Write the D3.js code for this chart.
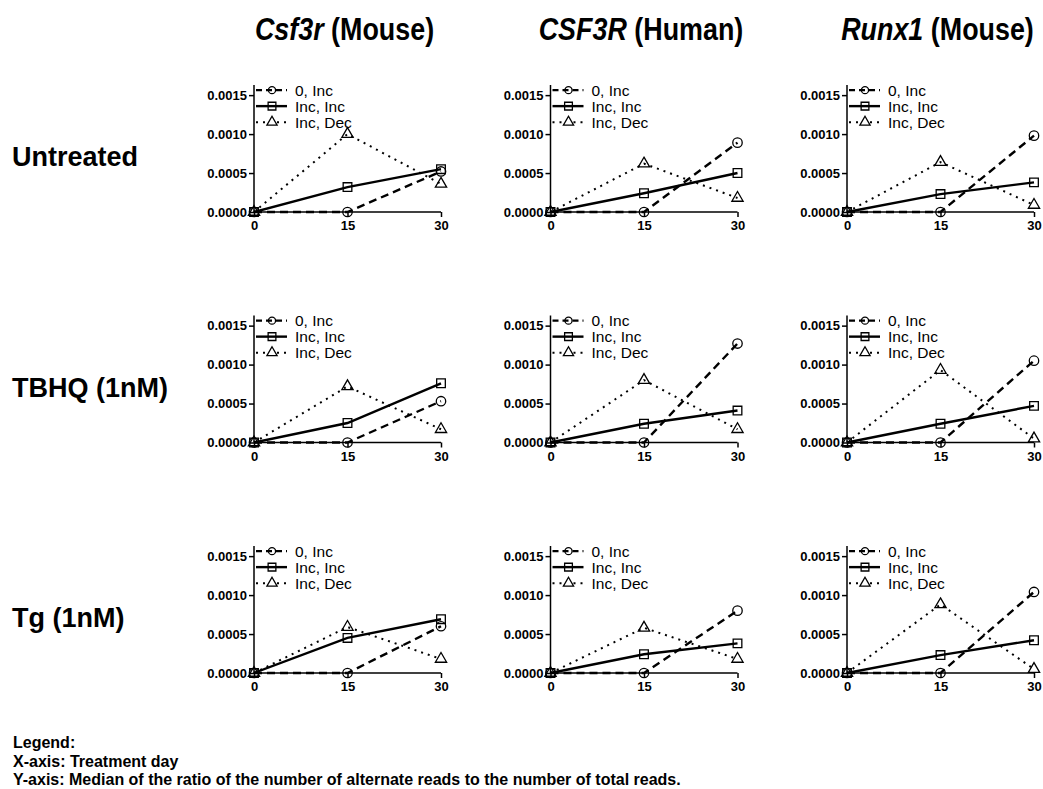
<!DOCTYPE html>
<html>
<head>
<meta charset="utf-8">
<script src="https://cdn.jsdelivr.net/npm/d3@7"></script>
<style>
  body { margin: 0; background: #fff; }
  svg { display: block; }
</style>
</head>
<body>
<div id="chart"></div>
<script>
// treatment day on x
let days = [0, 15, 30]
let genes = ["Csf3r", "CSF3R", "Runx1"]
let species = ["Mouse", "Human", "Mouse"]
let treatments = ["Untreated", "TBHQ (1nM)", "Tg (1nM)"]
let seriesNames = ["0, Inc", "Inc, Inc", "Inc, Dec"]
let yTicks = [0, 0.0005, 0.0010, 0.0015]
let notes = [
  "Legend:",
  "X-axis: Treatment day",
  "Y-axis: Median of the ratio of the number of alternate reads to the number of total reads."
]

// [row = treatment][col = gene][day]
let zeroInc = [
  [[0, 0, 0.00052], [0, 0, 0.00089], [0, 0, 0.00098]],
  [[0, 0, 0.00053], [0, 0, 0.00127], [0, 0, 0.00105]],
  [[0, 0, 0.00060], [0, 0, 0.00080], [0, 0, 0.00104]]
]
let incInc = [
  [[0, 0.00032, 0.00055], [0, 0.00024, 0.00050], [0, 0.00023, 0.00038]],
  [[0, 0.00025, 0.00076], [0, 0.00024, 0.00041], [0, 0.00024, 0.00047]],
  [[0, 0.00045, 0.00069], [0, 0.00024, 0.00038], [0, 0.00023, 0.00042]]
]
let incDec = [
  [[0, 0.00100, 0.00036], [0, 0.00062, 0.00018], [0, 0.00064, 0.00009]],
  [[0, 0.00072, 0.00017], [0, 0.00080, 0.00017], [0, 0.00093, 0.00005]],
  [[0, 0.00059, 0.00018], [0, 0.00058, 0.00018], [0, 0.00088, 0.00005]]
]

const width = 1043, height = 789;
const panelW = 187, plotH = 127;
const colX = [254, 550.5, 847];
const rowY = [212, 442.5, 673];

const styles = [
  {dash: "8,5", width: 2.4, shape: "circle"},
  {dash: null, width: 2.4, shape: "square"},
  {dash: "2,5", width: 2, shape: "triangle"}
]

let svg = d3.select("#chart")
  .append("svg")
    .attr("width", width)
    .attr("height", height)
    .style("font-family", "'Liberation Sans', Arial, sans-serif")

let x = d3.scaleLinear().domain([0, 30]).range([0, panelW])
let y = d3.scaleLinear().domain([0, 0.00163]).range([0, -plotH])

let symbolFor = function(shape, size) {
  let t = shape == "circle" ? d3.symbolCircle : shape == "square" ? d3.symbolSquare : d3.symbolTriangle
  return d3.symbol().type(t).size(size)()
}

// column titles (condensed look: no narrow font installed, so squeeze horizontally)
genes.forEach((g, c) => {
  let t = svg.append("text")
    .attr("transform", "translate(" + (colX[c] + panelW / 2 - 3) + ",40) scale(0.84,1)")
    .attr("text-anchor", "middle")
    .style("font-weight", "bold")
    .style("font-size", "32px")
  t.append("tspan").style("font-style", "italic").text(g)
  t.append("tspan").text(" (" + species[c] + ")")
})

// row labels
treatments.forEach((name, r) => {
  svg.append("text")
    .attr("x", 12)
    .attr("y", rowY[r] - 46)
    .style("font-weight", "bold")
    .style("font-size", "27px")
    .text(name)
})

let allSeries = [zeroInc, incInc, incDec]

treatments.forEach((tr, r) => {
  genes.forEach((g, c) => {
    let panel = svg.append("g")
      .attr("transform", "translate(" + colX[c] + "," + rowY[r] + ")")

    panel.append("g")
      .call(d3.axisLeft(y).tickValues(yTicks).tickFormat(d3.format(".4f")).tickSize(5).tickPadding(2))
    panel.append("g")
      .call(d3.axisBottom(x).tickValues(days).tickSize(5).tickPadding(4))

    panel.selectAll(".domain").remove()
    panel.append("line").attr("x1", 0).attr("x2", 0).attr("y1", 0).attr("y2", y(0.00163))
      .attr("stroke", "#000").attr("stroke-width", 1.5)
    panel.append("line").attr("x1", 0).attr("x2", x(30)).attr("y1", 0).attr("y2", 0)
      .attr("stroke", "#000").attr("stroke-width", 1.5)

    panel.selectAll(".tick line").attr("stroke-width", 1.5)
    panel.selectAll(".tick text")
      .style("font-family", "'Liberation Sans', Arial, sans-serif")
      .style("font-weight", "bold")
      .style("font-size", "13px")
      .attr("fill", "#000")

    let line = d3.line().x((d, i) => x(days[i])).y(d => y(d))

    allSeries.forEach((s, k) => {
      let vals = s[r][c]
      let st = styles[k]
      panel.append("path")
        .datum(vals)
        .attr("d", line)
        .attr("fill", "none")
        .attr("stroke", "#000")
        .attr("stroke-width", st.width)
        .attr("stroke-dasharray", st.dash)

      panel.selectAll(null)
        .data(vals)
        .enter()
        .append("path")
          .attr("d", symbolFor(st.shape, st.shape == "triangle" ? 55 : st.shape == "square" ? 75 : 70))
          .attr("transform", (d, i) => "translate(" + x(days[i]) + "," + y(d) + ")")
          .attr("fill", "none")
          .attr("stroke", "#000")
          .attr("stroke-width", 1.3)
    })

    // legend
    let leg = panel.append("g")
      .attr("transform", "translate(2," + (y(0.0015) - 5) + ")")
    seriesNames.forEach((name, k) => {
      let st = styles[k]
      let row = leg.append("g").attr("transform", "translate(0," + k * 16 + ")")
      row.append("line")
        .attr("x1", 0).attr("x2", 31).attr("y1", 0).attr("y2", 0)
        .attr("stroke", "#000")
        .attr("stroke-width", st.width)
        .attr("stroke-dasharray", k == 0 ? "6,4" : k == 2 ? "2,5" : null)
      row.append("path")
        .attr("d", symbolFor(st.shape, st.shape == "circle" ? 40 : st.shape == "square" ? 60 : 45))
        .attr("transform", "translate(16,0)")
        .attr("fill", k == 2 ? "#fff" : "none")
        .attr("stroke", "#000")
        .attr("stroke-width", 1.3)
      row.append("text")
        .attr("x", 39)
        .attr("y", 5.5)
        .style("font-size", "15.5px")
        .text(name)
    })
  })
})

// notes at bottom
notes.forEach((n, i) => {
  svg.append("text")
    .attr("x", 13)
    .attr("y", 748 + i * 18.5)
    .style("font-weight", "bold")
    .style("font-size", "16px")
    .text(n)
})
</script>
</body>
</html>
